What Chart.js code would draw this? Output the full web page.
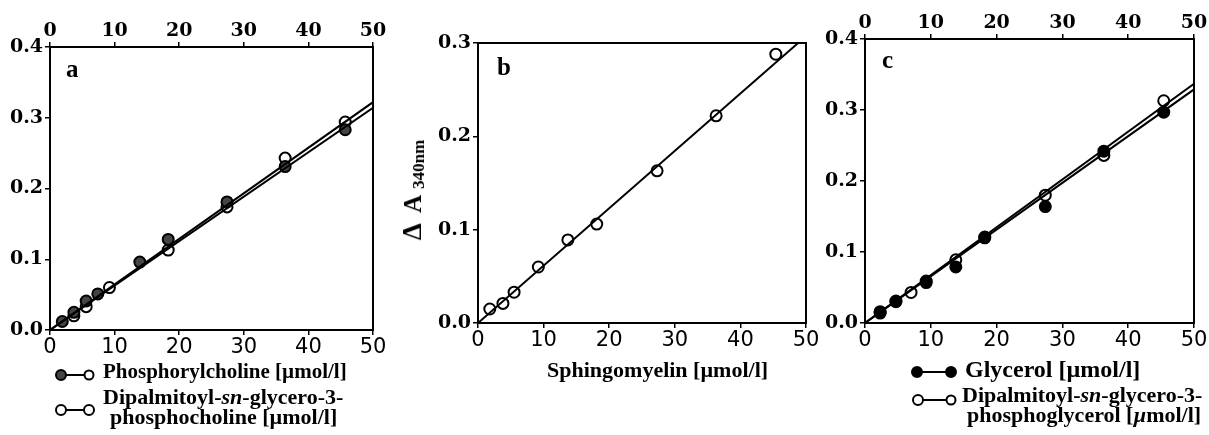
<!DOCTYPE html>
<html>
<head>
<meta charset="utf-8">
<script src="https://cdn.jsdelivr.net/npm/chart.js@4.4.1/dist/chart.umd.min.js"></script>
<style>
    body { margin: 0; background: #fff; width: 1209px; height: 435px; position: relative; overflow: hidden; }
    canvas { position: absolute; top: 0; }
    .txt { position: absolute; font-family: "Liberation Serif", "Times New Roman", serif; font-weight: bold; font-size: 22px; line-height: 1; white-space: nowrap; color: #000; }
    .letter { font-size: 25px; }
    #ytitle { left: 413px; top: 190px; transform: translate(-50%, -50%) rotate(-90deg); font-size: 25px; }
    #ytitle .d { font-size: 27px; margin-right: 4px; }
    #ytitle sub { font-size: 17px; vertical-align: -3px; margin-left: 6px; }
    svg { position: absolute; left: 0; top: 0; }
</style>
</head>
<body>
<canvas id="chartA" width="400" height="435" style="left:0px"></canvas>
<canvas id="chartB" width="425" height="435" style="left:395px"></canvas>
<canvas id="chartC" width="399" height="435" style="left:810px"></canvas>

<div class="txt letter" style="left:66px;top:56px">a</div>
<div class="txt letter" style="left:497px;top:54px">b</div>
<div class="txt letter" style="left:882px;top:47px">c</div>

<div class="txt" id="ytitle"><span class="d">Δ</span> A<sub>340nm</sub></div>
<div class="txt" style="left:547px;top:359px">Sphingomyelin [µmol/l]</div>

<div class="txt" style="left:103px;top:361px;font-size:21px">Phosphorylcholine [µmol/l]</div>
<div class="txt" style="left:103px;top:386px">Dipalmitoyl-<i>sn</i>-glycero-3-</div>
<div class="txt" style="left:110px;top:406px">phosphocholine [µmol/l]</div>

<div class="txt" style="left:965px;top:357px;font-size:24px">Glycerol [µmol/l]</div>
<div class="txt" style="left:962px;top:384px">Dipalmitoyl-<i>sn</i>-glycero-3-</div>
<div class="txt" style="left:967px;top:404px">phosphoglycerol [<i>µ</i>mol/l]</div>

<svg width="1209" height="435">
    <g stroke="#000" stroke-width="2">
        <line x1="62" y1="375" x2="88" y2="375"/>
        <circle cx="61" cy="375" r="5" fill="#444"/>
        <circle cx="89" cy="375" r="4.5" fill="#fff"/>
        <line x1="62" y1="410" x2="88" y2="410"/>
        <circle cx="61" cy="410" r="5" fill="#fff"/>
        <circle cx="89" cy="410" r="5" fill="#fff"/>
        <line x1="918" y1="372" x2="950" y2="372"/>
        <circle cx="917" cy="372" r="5" fill="#000"/>
        <circle cx="951" cy="372" r="5" fill="#000"/>
        <line x1="918" y1="400" x2="950" y2="400"/>
        <circle cx="918" cy="400" r="5" fill="#fff"/>
        <circle cx="951" cy="400" r="4.5" fill="#fff"/>
    </g>
</svg>

<script>
// panel a: phosphorylcholine (shaded) and dipalmitoyl-phosphocholine (open)
const aCholineX = [1.9, 3.7, 5.6, 7.4, 13.9, 18.3, 27.4, 36.4, 45.7];
const aCholineY = [0.012, 0.025, 0.041, 0.051, 0.096, 0.128, 0.181, 0.231, 0.283];
const aPcX = [3.7, 5.6, 9.2, 18.3, 27.4, 36.4, 45.7];
const aPcY = [0.020, 0.033, 0.060, 0.113, 0.174, 0.243, 0.294];
const aFitCholine = [[0, 0], [50, 0.314]];
const aFitPc = [[0, 0], [50, 0.322]];

// panel b: sphingomyelin
const bSmX = [1.8, 3.8, 5.5, 9.2, 13.7, 18.1, 27.3, 36.3, 45.4];
const bSmY = [0.015, 0.021, 0.033, 0.060, 0.089, 0.106, 0.163, 0.222, 0.288];
const bFit = [[0, 0], [48.8, 0.3]];

// panel c: glycerol (filled) and dipalmitoyl-phosphoglycerol (open)
const cGlyX = [2.3, 4.7, 9.3, 13.8, 18.2, 27.4, 36.3, 45.4];
const cGlyY = [0.014, 0.030, 0.057, 0.079, 0.121, 0.164, 0.242, 0.297];
const cPgX = [2.3, 4.7, 7.0, 9.3, 13.8, 18.2, 27.4, 36.3, 45.4];
const cPgY = [0.016, 0.031, 0.043, 0.059, 0.089, 0.120, 0.180, 0.236, 0.313];
const cFitGly = [[0, 0], [50, 0.329]];
const cFitPg = [[0, 0], [50, 0.337]];

// tick labels
const xTicks = [0, 10, 20, 30, 40, 50];
const yTicksA = [0, 0.1, 0.2, 0.3, 0.4];
const yTicksB = [0, 0.1, 0.2, 0.3];

const toPoints = (xs, ys) => xs.map((x, i) => ({ x: x, y: ys[i] }));
const toLine = (pairs) => pairs.map(p => ({ x: p[0], y: p[1] }));

const serifBold = { family: 'DejaVu Serif', weight: 'bold', size: 19 };
const sansTick = { family: 'DejaVu Sans', size: 21 };

function fitLine(pairs) {
    return {
        data: toLine(pairs),
        showLine: true,
        pointRadius: 0,
        borderColor: '#000',
        borderWidth: 2,
        fill: false
    };
}

function markers(xs, ys, fill) {
    return {
        data: toPoints(xs, ys),
        showLine: false,
        pointRadius: 5.5,
        pointBorderWidth: 2,
        pointBorderColor: '#000',
        pointBackgroundColor: fill
    };
}

function makeChart(id, datasets, box, yMax, yTicks, topLabels) {
    const ctx = document.getElementById(id).getContext('2d');
    const tickGrid = { display: true, drawOnChartArea: false, drawTicks: true, tickLength: 5, color: '#000', lineWidth: 1.5 };
    const border = { display: true, color: '#000', width: 2 };
    return new Chart(ctx, {
        type: 'scatter',
        data: { datasets: datasets },
        options: {
            responsive: false,
            animation: false,
            layout: { padding: 0 },
            plugins: { legend: { display: false }, tooltip: { enabled: false } },
            scales: {
                x: {
                    type: 'linear', position: 'bottom', min: 0, max: 50,
                    afterBuildTicks: s => { s.ticks = xTicks.map(v => ({ value: v })); },
                    ticks: { color: '#000', font: sansTick, padding: 0, maxRotation: 0, autoSkip: false },
                    grid: tickGrid,
                    border: border,
                    afterFit: s => { s.height = box.bottom; }
                },
                x2: {
                    type: 'linear', axis: 'x', position: 'top', min: 0, max: 50,
                    afterBuildTicks: s => { s.ticks = xTicks.map(v => ({ value: v })); },
                    ticks: { display: topLabels, color: '#000', font: serifBold, padding: 0, maxRotation: 0, autoSkip: false },
                    grid: Object.assign({}, tickGrid, { display: topLabels }),
                    border: border,
                    afterFit: s => { s.height = box.top; }
                },
                y: {
                    type: 'linear', position: 'left', min: 0, max: yMax,
                    afterBuildTicks: s => { s.ticks = yTicks.map(v => ({ value: v })); },
                    ticks: { color: '#000', font: serifBold, padding: 2, callback: v => v.toFixed(1) },
                    grid: tickGrid,
                    border: border,
                    afterFit: s => { s.width = box.left; }
                },
                y2: {
                    type: 'linear', axis: 'y', position: 'right', min: 0, max: yMax,
                    ticks: { display: false },
                    grid: { display: false },
                    border: border,
                    afterFit: s => { s.width = box.right; }
                }
            }
        }
    });
}

makeChart('chartA', [
    fitLine(aFitCholine),
    fitLine(aFitPc),
    markers(aCholineX, aCholineY, '#444'),
    markers(aPcX, aPcY, '#fff')
], { left: 50, right: 27, top: 47, bottom: 105 }, 0.4, yTicksA, true);

makeChart('chartB', [
    fitLine(bFit),
    markers(bSmX, bSmY, '#fff')
], { left: 83, right: 14, top: 43, bottom: 112 }, 0.3, yTicksB, false);

makeChart('chartC', [
    fitLine(cFitGly),
    fitLine(cFitPg),
    markers(cGlyX, cGlyY, '#000'),
    markers(cPgX, cPgY, '#fff')
], { left: 55, right: 15, top: 39, bottom: 112 }, 0.4, yTicksA, true);
</script>
</body>
</html>
